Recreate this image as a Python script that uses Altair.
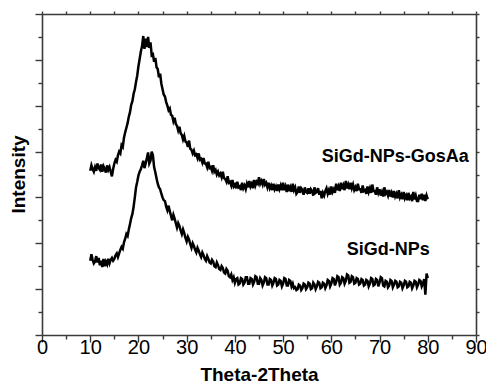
import altair as alt
import pandas as pd

# 2-theta sampling positions (degrees)
angles = [
    10.0, 10.25, 10.5, 10.75, 11.0, 11.25, 11.5, 11.75, 12.0, 12.25, 12.5, 12.75,
    13.0, 13.25, 13.5, 13.75, 14.0, 14.25, 14.5, 14.75, 15.0, 15.25, 15.5, 15.75,
    16.0, 16.25, 16.5, 16.75, 17.0, 17.25, 17.5, 17.75, 18.0, 18.25, 18.5, 18.75,
    19.0, 19.25, 19.5, 19.75, 20.0, 20.25, 20.5, 20.75, 21.0, 21.25, 21.5, 21.75,
    22.0, 22.25, 22.5, 22.75, 23.0, 23.25, 23.5, 23.75, 24.0, 24.25, 24.5, 24.75,
    25.0, 25.25, 25.5, 25.75, 26.0, 26.25, 26.5, 26.75, 27.0, 27.25, 27.5, 27.75,
    28.0, 28.25, 28.5, 28.75, 29.0, 29.25, 29.5, 29.75, 30.0, 30.25, 30.5, 30.75,
    31.0, 31.25, 31.5, 31.75, 32.0, 32.25, 32.5, 32.75, 33.0, 33.25, 33.5, 33.75,
    34.0, 34.25, 34.5, 34.75, 35.0, 35.25, 35.5, 35.75, 36.0, 36.25, 36.5, 36.75,
    37.0, 37.25, 37.5, 37.75, 38.0, 38.25, 38.5, 38.75, 39.0, 39.25, 39.5, 39.75,
    40.0, 40.25, 40.5, 40.75, 41.0, 41.25, 41.5, 41.75, 42.0, 42.25, 42.5, 42.75,
    43.0, 43.25, 43.5, 43.75, 44.0, 44.25, 44.5, 44.75, 45.0, 45.25, 45.5, 45.75,
    46.0, 46.25, 46.5, 46.75, 47.0, 47.25, 47.5, 47.75, 48.0, 48.25, 48.5, 48.75,
    49.0, 49.25, 49.5, 49.75, 50.0, 50.25, 50.5, 50.75, 51.0, 51.25, 51.5, 51.75,
    52.0, 52.25, 52.5, 52.75, 53.0, 53.25, 53.5, 53.75, 54.0, 54.25, 54.5, 54.75,
    55.0, 55.25, 55.5, 55.75, 56.0, 56.25, 56.5, 56.75, 57.0, 57.25, 57.5, 57.75,
    58.0, 58.25, 58.5, 58.75, 59.0, 59.25, 59.5, 59.75, 60.0, 60.25, 60.5, 60.75,
    61.0, 61.25, 61.5, 61.75, 62.0, 62.25, 62.5, 62.75, 63.0, 63.25, 63.5, 63.75,
    64.0, 64.25, 64.5, 64.75, 65.0, 65.25, 65.5, 65.75, 66.0, 66.25, 66.5, 66.75,
    67.0, 67.25, 67.5, 67.75, 68.0, 68.25, 68.5, 68.75, 69.0, 69.25, 69.5, 69.75,
    70.0, 70.25, 70.5, 70.75, 71.0, 71.25, 71.5, 71.75, 72.0, 72.25, 72.5, 72.75,
    73.0, 73.25, 73.5, 73.75, 74.0, 74.25, 74.5, 74.75, 75.0, 75.25, 75.5, 75.75,
    76.0, 76.25, 76.5, 76.75, 77.0, 77.25, 77.5, 77.75, 78.0, 78.25, 78.5, 78.75,
    79.0, 79.25, 79.5, 79.75, 80.0,
]

# Intensity (offset, arbitrary units)
gosaa = [
    3.58, 3.70, 3.62, 3.56, 3.66, 3.58, 3.74, 3.64, 3.60, 3.72, 3.56, 3.68,
    3.62, 3.54, 3.70, 3.60, 3.66, 3.56, 3.46, 3.62, 3.74, 3.82, 3.78, 3.92,
    4.00, 3.96, 4.14, 4.10, 4.30, 4.42, 4.52, 4.62, 4.76, 4.86, 5.02, 5.10,
    5.26, 5.36, 5.52, 5.66, 5.86, 6.02, 6.18, 6.30, 6.52, 6.24, 6.46, 6.28,
    6.50, 6.26, 6.38, 6.10, 6.12, 5.96, 6.04, 5.84, 5.80, 5.62, 5.70, 5.48,
    5.36, 5.24, 5.20, 5.08, 5.00, 4.90, 4.94, 4.80, 4.78, 4.66, 4.74, 4.60,
    4.56, 4.46, 4.54, 4.40, 4.36, 4.26, 4.34, 4.22, 4.20, 4.10, 4.24, 4.06,
    4.04, 3.96, 4.02, 3.92, 3.94, 3.86, 3.96, 3.82, 3.84, 3.76, 3.86, 3.74,
    3.74, 3.66, 3.78, 3.64, 3.66, 3.58, 3.70, 3.56, 3.60, 3.50, 3.56, 3.48,
    3.52, 3.44, 3.56, 3.42, 3.40, 3.34, 3.46, 3.32, 3.34, 3.26, 3.38, 3.24,
    3.28, 3.20, 3.34, 3.22, 3.24, 3.16, 3.32, 3.20, 3.26, 3.18, 3.30, 3.22,
    3.36, 3.24, 3.30, 3.20, 3.38, 3.26, 3.34, 3.30, 3.44, 3.30, 3.36, 3.28,
    3.40, 3.28, 3.32, 3.22, 3.32, 3.20, 3.26, 3.16, 3.30, 3.18, 3.24, 3.14,
    3.28, 3.18, 3.26, 3.16, 3.32, 3.16, 3.24, 3.12, 3.28, 3.14, 3.22, 3.12,
    3.30, 3.16, 3.22, 3.08, 3.12, 3.24, 3.10, 3.20, 3.16, 3.06, 3.22, 3.12,
    3.10, 3.20, 3.08, 3.18, 3.14, 3.04, 3.22, 3.10, 3.12, 3.20, 3.06, 3.14,
    2.98, 3.10, 3.04, 3.14, 3.20, 3.08, 3.16, 3.06, 3.24, 3.12, 3.18, 3.10,
    3.30, 3.16, 3.24, 3.14, 3.32, 3.18, 3.26, 3.16, 3.36, 3.20, 3.28, 3.18,
    3.32, 3.20, 3.28, 3.16, 3.22, 3.14, 3.30, 3.18, 3.18, 3.10, 3.26, 3.14,
    3.16, 3.08, 3.24, 3.12, 3.20, 3.10, 3.28, 3.14, 3.14, 3.06, 3.22, 3.10,
    3.18, 3.04, 3.12, 3.02, 3.22, 3.08, 3.12, 3.04, 3.16, 3.02, 3.10, 3.00,
    3.14, 3.02, 3.08, 2.98, 3.16, 3.00, 3.06, 2.96, 3.12, 2.98, 3.04, 2.94,
    3.10, 2.98, 3.02, 2.92, 3.12, 2.96, 3.04, 2.92, 2.92, 3.06, 2.96, 3.08,
    2.94, 3.06, 2.92, 3.04, 2.96,
]

nps = [
    1.62, 1.76, 1.64, 1.56, 1.60, 1.72, 1.58, 1.68, 1.52, 1.62, 1.48, 1.66,
    1.50, 1.60, 1.54, 1.66, 1.56, 1.64, 1.68, 1.62, 1.66, 1.74, 1.78, 1.70,
    1.78, 1.86, 1.92, 1.88, 2.02, 2.10, 2.20, 2.16, 2.30, 2.42, 2.55, 2.64,
    2.80, 3.00, 3.22, 3.34, 3.48, 3.56, 3.62, 3.70, 3.80, 3.64, 3.74, 3.86,
    3.98, 3.74, 3.80, 4.00, 3.92, 3.66, 3.55, 3.42, 3.30, 3.22, 3.18, 3.08,
    3.00, 2.94, 2.92, 2.80, 2.72, 2.82, 2.70, 2.60, 2.50, 2.62, 2.54, 2.44,
    2.34, 2.44, 2.38, 2.28, 2.20, 2.30, 2.22, 2.12, 2.04, 2.14, 2.08, 1.98,
    1.90, 2.00, 1.94, 1.86, 1.80, 1.90, 1.84, 1.76, 1.70, 1.80, 1.74, 1.66,
    1.62, 1.72, 1.66, 1.58, 1.56, 1.64, 1.60, 1.50, 1.48, 1.58, 1.52, 1.44,
    1.42, 1.50, 1.46, 1.36, 1.34, 1.44, 1.40, 1.28, 1.26, 1.32, 1.20, 1.26,
    1.14, 1.22, 1.24, 1.10, 1.12, 1.24, 1.22, 1.10, 1.14, 1.26, 1.26, 1.12,
    1.12, 1.24, 1.22, 1.10, 1.16, 1.28, 1.26, 1.12, 1.12, 1.24, 1.20, 1.08,
    1.14, 1.26, 1.24, 1.10, 1.10, 1.22, 1.20, 1.08, 1.14, 1.24, 1.22, 1.08,
    1.10, 1.20, 1.18, 1.06, 1.12, 1.24, 1.22, 1.08, 1.08, 1.20, 1.18, 1.06,
    1.12, 1.02, 1.04, 0.98, 1.00, 1.10, 1.08, 0.98, 1.02, 1.12, 1.10, 1.00,
    1.04, 1.14, 1.12, 1.00, 1.02, 1.14, 1.10, 1.00, 1.06, 1.16, 1.14, 1.02,
    1.04, 1.14, 1.12, 1.02, 1.08, 1.20, 1.18, 1.06, 1.12, 1.24, 1.22, 1.08,
    1.16, 1.28, 1.26, 1.10, 1.14, 1.26, 1.24, 1.12, 1.18, 1.32, 1.30, 1.14,
    1.16, 1.28, 1.26, 1.12, 1.14, 1.24, 1.22, 1.10, 1.12, 1.22, 1.20, 1.08,
    1.10, 1.20, 1.18, 1.06, 1.12, 1.24, 1.22, 1.08, 1.10, 1.22, 1.20, 1.06,
    1.14, 1.26, 1.24, 1.08, 1.06, 1.18, 1.16, 1.04, 1.08, 1.20, 1.18, 1.04,
    1.10, 1.18, 1.16, 1.04, 1.06, 1.16, 1.14, 1.02, 1.08, 1.18, 1.16, 1.04,
    1.06, 1.16, 1.14, 1.02, 1.08, 1.18, 1.16, 1.04, 1.10, 1.20, 1.18, 1.06,
    1.12, 1.22, 0.88, 1.34, 1.24,
]

series_names = ["SiGd-NPs-GosAa", "SiGd-NPs"]

label_texts = ["SiGd-NPs-GosAa", "SiGd-NPs"]
label_x = [58.0, 63.2]
label_y = [3.78, 1.745]

x_ticks = [0, 5, 10, 15, 20, 25, 30, 35, 40, 45, 50, 55, 60, 65, 70, 75, 80, 85, 90]
y_ticks = [0, 0.5, 1, 1.5, 2, 2.5, 3, 3.5, 4, 4.5, 5, 5.5, 6, 6.5, 7]

FONT = "Liberation Sans"
AXIS_COLOR = "#3a3a3a"

df = pd.DataFrame({
    "angle": angles + angles,
    "intensity": gosaa + nps,
    "sample": [series_names[0]] * len(angles) + [series_names[1]] * len(angles),
})
labels_df = pd.DataFrame({"x": label_x, "y": label_y, "text": label_texts})

x_scale = alt.Scale(domain=[0, 90], nice=False, zero=False)
y_scale = alt.Scale(domain=[0, 7], nice=False, zero=False)

common = dict(
    grid=False,
    domainColor=AXIS_COLOR,
    domainWidth=1.6,
    tickColor=AXIS_COLOR,
    tickWidth=1.4,
)

lines = alt.Chart(df).mark_line(color="black", strokeWidth=2.5).encode(
    x=alt.X(
        "angle:Q",
        scale=x_scale,
        axis=alt.Axis(
            orient="bottom",
            values=x_ticks,
            labelExpr="datum.value % 10 === 0 ? datum.label : ''",
            tickSize={"condition": {"test": "datum.value % 10 === 0", "value": 7}, "value": 4},
            title="Theta-2Theta",
            titleFont=FONT,
            titleFontSize=19,
            titleFontWeight="bold",
            titleColor="black",
            titleY=45,
            titleBaseline="alphabetic",
            labelFont=FONT,
            labelFontSize=20,
            labelColor="black",
            labelPadding=-5,
            labelFlush=False,
            labelOverlap=False,
            **common,
        ),
    ),
    y=alt.Y(
        "intensity:Q",
        scale=y_scale,
        axis=alt.Axis(
            orient="left",
            values=y_ticks,
            labels=False,
            tickSize={"condition": {"test": "datum.value % 1 === 0", "value": 7}, "value": 4},
            title="Intensity",
            titleFont=FONT,
            titleFontSize=19,
            titleFontWeight="bold",
            titleColor="black",
            titleAngle=270,
            titleX=-18,
            titleY=160,
            titleBaseline="alphabetic",
            **common,
        ),
    ),
    detail="sample:N",
)

texts = alt.Chart(labels_df).mark_text(
    align="left", baseline="alphabetic", font=FONT, fontSize=18, fontWeight="bold", color="black"
).encode(
    x=alt.X(
        "x:Q",
        scale=x_scale,
        axis=alt.Axis(orient="top", values=x_ticks, labels=False, tickSize=3, title=None, **common),
    ),
    y=alt.Y(
        "y:Q",
        scale=y_scale,
        axis=alt.Axis(orient="right", values=y_ticks, labels=False, tickSize=3, title=None, **common),
    ),
    text="text:N",
)

chart = alt.layer(lines, texts).resolve_axis(x="independent", y="independent").properties(
    width=434,
    height=321,
    autosize=alt.AutoSizeParams(type="none"),
    padding={"left": 42, "top": 14, "right": 10, "bottom": 46},
    background="white",
).configure_view(stroke=None)

chart.save("out.html", embed_options={"renderer": "svg", "actions": False})
